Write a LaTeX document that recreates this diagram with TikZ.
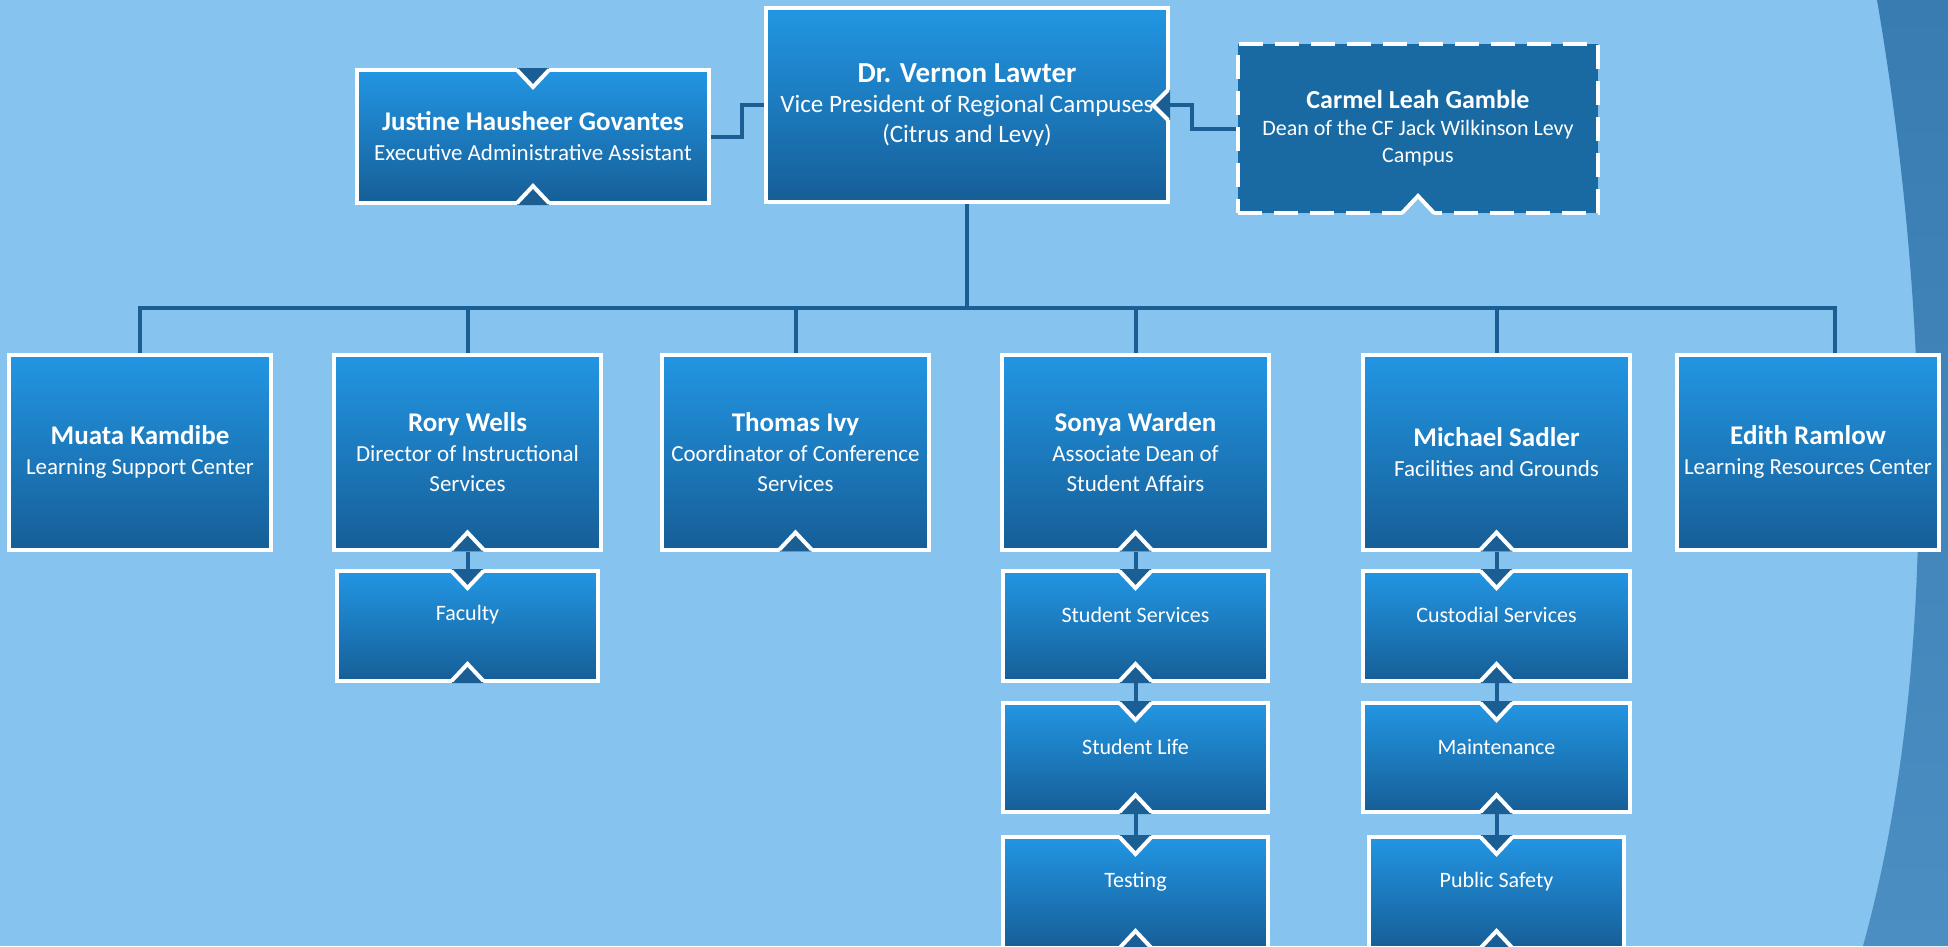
\documentclass[tikz,border=0pt]{standalone}
\usepackage{fontspec}
\setmainfont{Carlito}
\usetikzlibrary{calc}
\definecolor{bg}{HTML}{86C3EE}
\definecolor{boxtop}{HTML}{2296E3}
\definecolor{boxbot}{HTML}{165E97}
\definecolor{conncol}{HTML}{1A5E93}
\definecolor{deancol}{HTML}{196AA2}
\definecolor{wavetop}{HTML}{397CB2}
\definecolor{wavebot}{HTML}{4A8EC2}
\pgfdeclarelayer{bgl}
\pgfdeclarelayer{connl}
\pgfsetlayers{bgl,connl,main}
\tikzset{
 orgbox/.style={rectangle, inner sep=0pt, outer sep=0pt, draw=white, line width=4pt,
   top color=boxtop, bottom color=boxbot, text=white, align=center,
   font=\fontsize{23}{30}\selectfont},
 deanbox/.style={rectangle, inner sep=0pt, outer sep=0pt, draw=white, line width=4pt,
   dash pattern=on 24pt off 12pt, fill=deancol, text=white, align=center,
   font=\fontsize{22}{27}\selectfont},
 conn/.style={draw=conncol, line width=4pt},
 lthree/.style={text=white, font=\fontsize{22}{26}\selectfont, inner sep=0pt},
 notchline/.style={draw=white, line width=4pt},
}
\newcommand\nm[1]{{\fontsize{27}{31}\selectfont\bfseries #1}}
\newcommand\vdown[2][conncol]{%
 \fill[#1] ($(#2)+(-16,-2)$) -- ($(#2)+(16,-2)$) -- ($(#2)+(0,17)$) -- cycle;
 \draw[notchline] ($(#2)+(-16,0)$) -- ($(#2)+(0,17)$) -- ($(#2)+(16,0)$);}
\newcommand\vup[2][conncol]{%
 \fill[#1] ($(#2)+(-16,2)$) -- ($(#2)+(16,2)$) -- ($(#2)+(0,-17)$) -- cycle;
 \draw[notchline] ($(#2)+(-16,0)$) -- ($(#2)+(0,-17)$) -- ($(#2)+(16,0)$);}
\newcommand\vleft[2][conncol]{%
 \fill[#1] ($(#2)+(2,-15)$) -- ($(#2)+(2,15)$) -- ($(#2)+(-15,0)$) -- cycle;
 \draw[notchline] ($(#2)+(0,-15)$) -- ($(#2)+(-15,0)$) -- ($(#2)+(0,15)$);}
\begin{document}
\begin{tikzpicture}[x=1pt,y=-1pt]
\useasboundingbox (0,0) rectangle (1948,946);
\clip (0,0) rectangle (1948,946);
\begin{pgfonlayer}{bgl}
\fill[bg] (0,0) rectangle (1948,946);
\shade[top color=wavetop,bottom color=wavebot] (1877,0) .. controls (1925,280) and (1945,650) .. (1863,946) -- (1948,946) -- (1948,0) -- cycle;
\end{pgfonlayer}

% top level
\node[orgbox, minimum width=352, minimum height=133] (jus) at (533,136.5)
 {\nm{Justine Hausheer Govantes}\\Executive Administrative Assistant};
\node[orgbox, minimum width=402, minimum height=194, font=\fontsize{25}{30}\selectfont] (vp) at (967,105)
 {{\fontsize{29}{32}\selectfont\bfseries Dr. Vernon Lawter}\\Vice President of Regional Campuses\\(Citrus and Levy)};
\node[deanbox, minimum width=360, minimum height=169] (carmel) at (1418,128.5)
 {{\fontsize{26}{30}\selectfont\bfseries Carmel Leah Gamble}\\Dean of the CF Jack Wilkinson Levy\\Campus};

% second level
\node[orgbox, minimum width=262, minimum height=195] (muata) at (140,452)
 {\nm{Muata Kamdibe}\\Learning Support Center};
\node[orgbox, minimum width=267, minimum height=195] (rory) at (467.5,452)
 {\nm{Rory Wells}\\Director of Instructional\\Services};
\node[orgbox, minimum width=267, minimum height=195] (thomas) at (795.5,452)
 {\nm{Thomas Ivy}\\Coordinator of Conference\\Services};
\node[orgbox, minimum width=267, minimum height=195] (sonya) at (1135.5,452)
 {\nm{Sonya Warden}\\Associate Dean of\\Student Affairs};
\node[orgbox, minimum width=267, minimum height=195] (michael) at (1496.5,452)
 {\nm{Michael Sadler}\\Facilities and Grounds};
\node[orgbox, minimum width=262, minimum height=195] (edith) at (1808,452)
 {\nm{Edith Ramlow}\\Learning Resources Center};

% third level
\node[orgbox, minimum width=261, minimum height=110] (faculty) at (467.5,626) {};
\node[orgbox, minimum width=265, minimum height=110] (stuserv) at (1135.5,626) {};
\node[orgbox, minimum width=265, minimum height=109] (stulife) at (1135.5,757.5) {};
\node[orgbox, minimum width=265, minimum height=111] (testing) at (1135.5,892.5) {};
\node[orgbox, minimum width=267, minimum height=110] (custod) at (1496.5,626) {};
\node[orgbox, minimum width=267, minimum height=109] (maint) at (1496.5,757.5) {};
\node[orgbox, minimum width=255, minimum height=111] (pubsaf) at (1496.5,892.5) {};

\node[lthree] (facultyt) at ($(faculty.center)+(0,-11)$) {Faculty};
\node[lthree] (stuservt) at ($(stuserv.center)+(0,-11)$) {Student Services};
\node[lthree] (stulifet) at ($(stulife.center)+(0,-11)$) {Student Life};
\node[lthree] (testingt) at ($(testing.center)+(0,-11)$) {Testing};
\node[lthree] (custodt) at ($(custod.center)+(0,-11)$) {Custodial Services};
\node[lthree] (maintt) at ($(maint.center)+(0,-11)$) {Maintenance};
\node[lthree] (pubsaft) at ($(pubsaf.center)+(0,-11)$) {Public Safety};

% connectors
\coordinate (bus) at (967,308);
\coordinate (edithdrop) at ($(edith.north)+(27,0)$);
\begin{pgfonlayer}{connl}
\draw[conn] (vp.south) -- (vp.south |- bus);
\draw[conn] (muata.north) -- (muata.north |- bus) -- (edithdrop |- bus) -- (edithdrop);
\foreach \n in {rory,thomas,sonya,michael} \draw[conn] (\n.north) -- (\n.north |- bus);
\draw[conn] (jus.east) -- ++(33,0) |- (vp.west);
\draw[conn] (carmel.west) -- ++(-46,0) |- (vp.east);
\draw[conn] (rory.south) -- (faculty.north);
\draw[conn] (sonya.south) -- (stuserv.north);
\draw[conn] (stuserv.south) -- (stulife.north);
\draw[conn] (stulife.south) -- (testing.north);
\draw[conn] (michael.south) -- (custod.north);
\draw[conn] (custod.south) -- (maint.north);
\draw[conn] (maint.south) -- (pubsaf.north);
\end{pgfonlayer}

% notches
\vdown{jus.north}
\vup{jus.south}
\vleft{vp.east}
\vup[bg]{carmel.south}
\foreach \n in {rory,thomas,sonya,michael} {\vup{\n.south}}
\foreach \n in {faculty,stuserv,stulife,testing,custod,maint,pubsaf} {\vdown{\n.north}\vup{\n.south}}
\end{tikzpicture}
\end{document}
